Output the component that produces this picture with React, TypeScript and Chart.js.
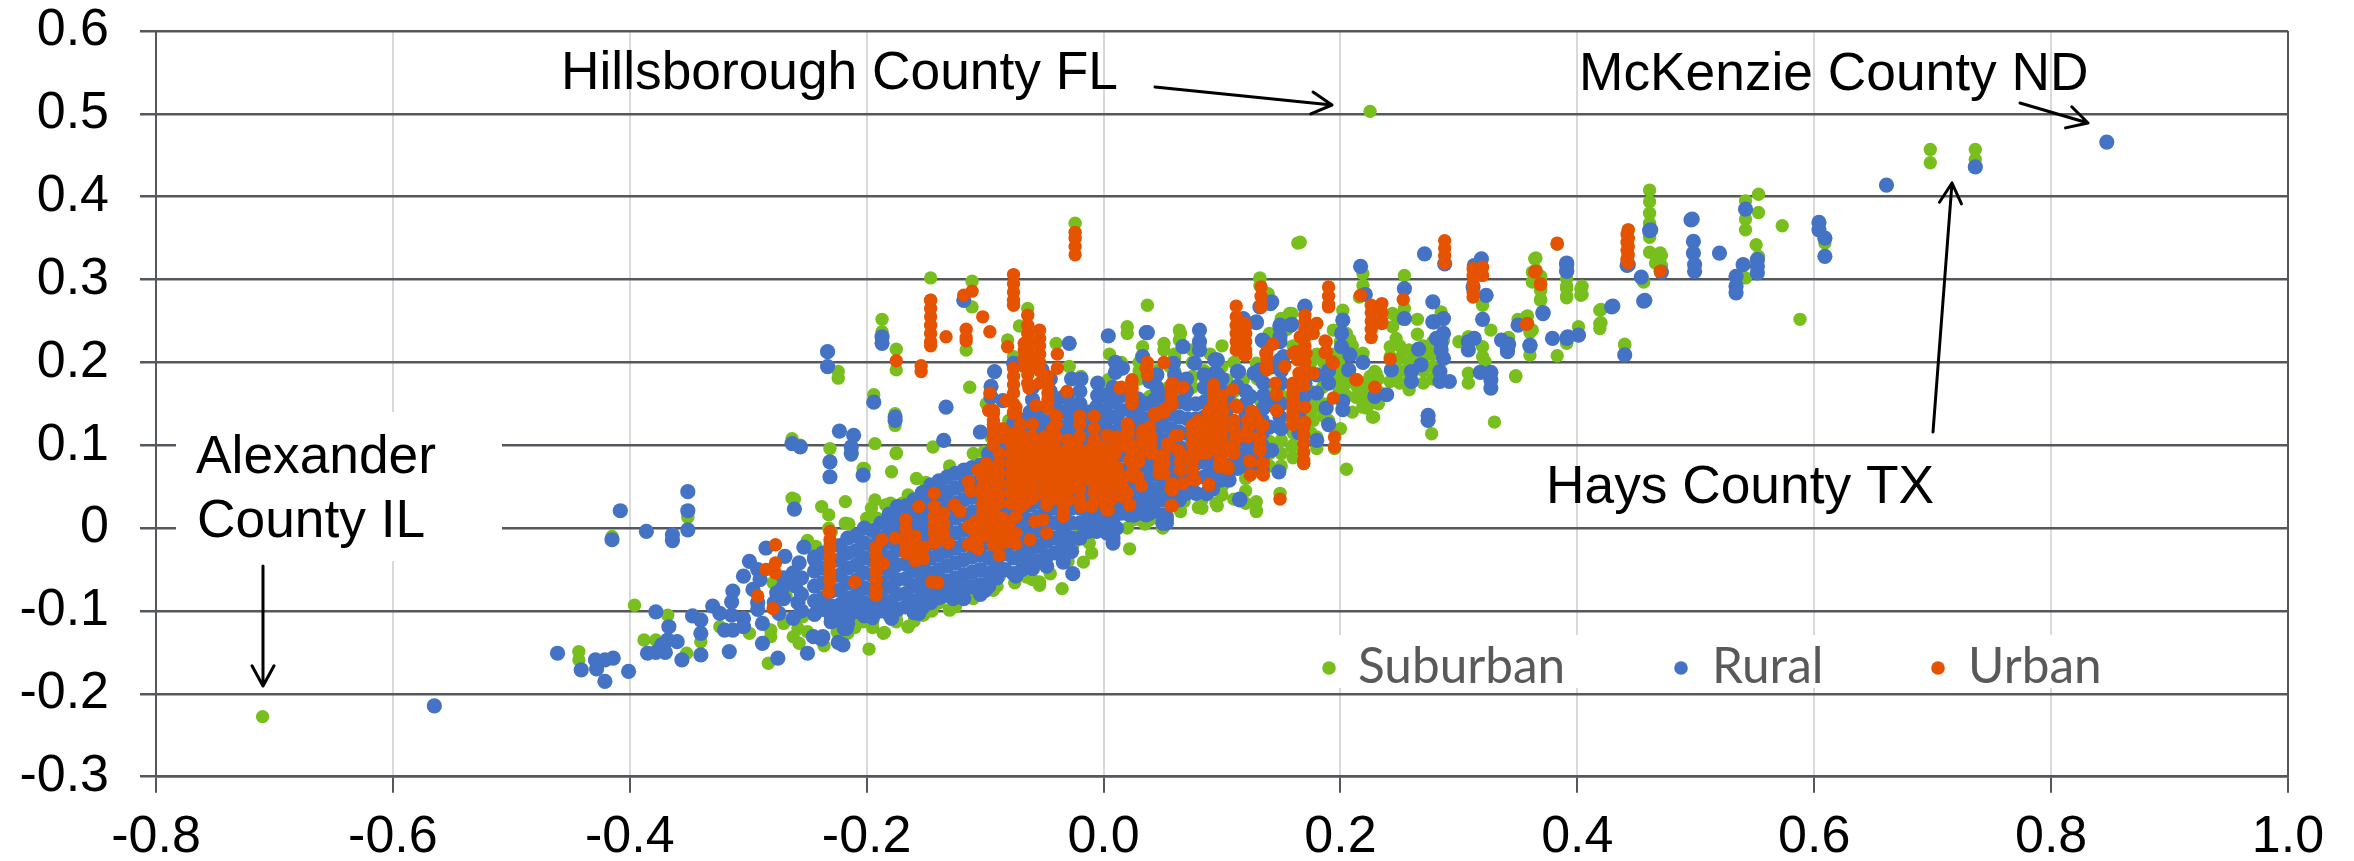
import React, { useEffect, useRef } from "react";
import { Chart, registerables } from "chart.js";

Chart.register(...registerables);

type Stack = [number, number[]];

const xTicks = { min: -0.8, max: 1.0, step: 0.2 };
const yTicks = { min: -0.3, max: 0.6, step: 0.1 };
const seriesNames = ["Suburban", "Rural", "Urban"];

const suburbanStacks: Stack[] = [
  [-0.71, [-0.2275]], [0.225, [0.503]],
  [-0.415, [-0.01]], [-0.351, [0.013]], [-0.396, [-0.093]], [-0.368, [-0.105]], [-0.388, [-0.135]], [-0.378, [-0.135]],
  [-0.443, [-0.149, -0.159]], [-0.352, [-0.151]], [-0.34, [-0.137]], [-0.299, [-0.127]], [-0.324, [-0.119]], [-0.283, [-0.163]],
  [-0.281, [-0.131, -0.123]], [-0.262, [-0.131]], [-0.257, [-0.139]], [-0.254, [-0.107]], [-0.258, [-0.121]], [-0.236, [-0.142]],
  [-0.216, [-0.127]], [-0.198, [-0.146]], [-0.186, [-0.127]], [-0.165, [-0.119]], [-0.175, [-0.113, -0.103]], [-0.195, [-0.113, -0.101]],
  [-0.203, [-0.113]], [-0.189, [-0.094]], [-0.153, [-0.105]], [-0.13, [-0.098, -0.099]], [-0.139, [-0.09]], [-0.184, [-0.096, 0.028]],
  [-0.261, [0.035]], [-0.238, [0.026]], [-0.232, [0.016, 0]], [-0.218, [0.032, 0.006]], [-0.193, [0.034, 0.102]], [-0.196, [0.024]],
  [-0.191, [0.012]], [-0.175, [0.09, 0.091]], [-0.203, [0.072]], [-0.231, [0.096]], [-0.213, [0.088]], [-0.243, [-0.022]],
  [-0.279, [-0.066]], [-0.268, [-0.082]], [-0.094, [-0.074]], [-0.111, [-0.064]], [-0.088, [-0.058, -0.051]], [-0.144, [0.098]],
  [-0.101, [0.092]], [-0.116, [0.066]], [-0.179, [0.068]], [-0.158, [0.06]], [-0.17, [0.03]], [-0.133, [0.034]],
  [-0.176, [0.138, 0.124]], [-0.263, [0.108, 0.036]], [-0.256, [0.1]], [-0.202, [0.072]],
  [-0.054, [-0.065, -0.069]], [-0.035, [-0.073]], [-0.017, [-0.041]], [-0.026, [-0.021]], [-0.012, [-0.018, 0.014]], [0.022, [-0.025]],
  [0.129, [0.032, 0.02]], [0.096, [0.027]], [0.082, [0.025]], [0.068, [0.032]], [0.025, [0.01]], [0.039, [0.01, 0.154, 0.159]],
  [0.033, [0.034, 0.219]], [0.047, [0.042]], [-0.02, [-0.006]], [-0.093, [-0.075]], [-0.11, [-0.071]], [-0.165, [-0.119]], [-0.185, [-0.126]],
  [-0.197, [-0.111]], [-0.208, [-0.113]], [-0.152, [-0.105]], [-0.141, [-0.091]], [-0.065, [-0.059]], [-0.068, [-0.035]], [-0.064, [-0.031]],
  [-0.024, [0.368]], [-0.146, [0.302, 0.275]], [-0.111, [0.298, 0.267]], [-0.187, [0.252, 0.237]], [-0.175, [0.216, 0.191]], [-0.224, [0.189, 0.181]],
  [-0.194, [0.161]], [-0.113, [0.17]], [-0.116, [0.215]], [-0.081, [0.227]], [-0.064, [0.265]], [-0.071, [0.244]], [-0.04, [0.223]],
  [-0.029, [0.195]], [-0.019, [0.183]], [-0.076, [0.207]], [0.037, [0.269]], [0.02, [0.243, 0.235]], [0.051, [0.223, 0.215]], [0.064, [0.239, 0.227]],
  [0.132, [0.302, 0.155]], [0.139, [0.283]], [0.157, [0.259]], [0.164, [0.344]], [-0.099, [0.15]], [0.004, [0.179, 0.167, 0.175]],
  [0.056, [0.195]], [0.075, [0.183]], [0.166, [0.345]], [0.132, [0.301, 0.293]], [0.15, [0.253]], [0.219, [0.307, 0.293, 0.211, 0.146]],
  [0.216, [0.279, 0.167]], [0.254, [0.305, 0.265]], [0.244, [0.259, 0.243]], [0.249, [0.253]], [0.265, [0.252, 0.234]], [0.247, [0.229, 0.179]],
  [0.242, [0.219, 0.207, 0.177]], [0.253, [0.215]], [0.285, [0.261]], [0.287, [0.227]], [0.275, [0.211]], [0.264, [0.203]], [0.261, [0.191]],
  [0.258, [0.167]], [0.308, [0.187, 0.175, 0.231]], [0.32, [0.269, 0.253, 0.219, 0.207]], [0.327, [0.239]], [0.322, [0.201]], [0.348, [0.183]],
  [0.33, [0.128]], [0.277, [0.114]], [0.364, [0.325]], [0.362, [0.309, 0.297, 0.239]], [0.369, [0.303, 0.287, 0.275]], [0.357, [0.255]],
  [0.36, [0.209]], [0.351, [0.249]], [0.383, [0.343, 0.208]], [0.391, [0.301, 0.289, 0.278, 0.223]], [0.403, [0.289, 0.281]], [0.419, [0.263, 0.247, 0.241]],
  [0.401, [0.243]], [0.44, [0.221]], [0.461, [0.408, 0.394, 0.38, 0.368, 0.351, 0.333]], [0.471, [0.329, 0.317]], [0.456, [0.297]],
  [0.225, [0.183, 0.15]], [0.23, [0.187]], [0.213, [0.158]], [0.227, [0.134]], [0.199, [0.239, 0.167]], [0.194, [0.239, 0.191]], [0.208, [0.227]],
  [0.202, [0.171, 0.263]], [0.18, [0.146, 0.247, 0.096]], [0.177, [0.13]], [0.698, [0.457, 0.441]], [0.736, [0.457, 0.445]], [0.443, [0.36]],
  [0.47, [0.332, 0.316]], [0.466, [0.32]], [0.542, [0.395, 0.373, 0.36, 0.302]], [0.553, [0.403, 0.381, 0.328]], [0.573, [0.365]], [0.551, [0.342]],
  [0.609, [0.344]], [0.588, [0.252]], [0.365, [0.326, 0.312, 0.3]], [0.369, [0.304, 0.288, 0.276]], [0.391, [0.292, 0.28, 0.224]], [0.404, [0.292, 0.282]],
  [0.42, [0.264, 0.248]], [0.358, [0.256]], [0.35, [0.252]], [0.36, [0.236]], [0.44, [0.222]], [0.348, [0.184]], [0.342, [0.23]],
  [0.065, [0.235]], [0.003, [0.175, 0.165]], [0.048, [0.122]], [0.042, [0.038]], [0.031, [0.01]], [0.045, [0.018]], [0.062, [0.027]], [0.083, [0.034, 0.024]],
  [0.129, [0.022, 0.199]], [0.149, [0.042]], [0.205, [0.071]], [0.169, [0.078]], [0.159, [0.098, 0.259]], [0.15, [0.106]], [0.195, [0.096]],
  [0.118, [0.179]], [0.104, [0.179]], [0.132, [0.155]], [0.229, [0.189, 0.171]], [0.216, [0.159]], [0.219, [0.151]], [0.228, [0.134]], [0.214, [0.171]],
  [0.197, [0.187]], [0.2, [0.207]],
];

const suburbanFringe: Stack[] = [
  [-0.27, [-0.115]], [-0.25, [-0.125, -0.015]], [-0.225, [-0.125]], [-0.21, [-0.12]], [-0.195, [-0.12]], [-0.175, [-0.11]], [-0.16, [-0.112]],
  [-0.145, [-0.1]], [-0.125, [-0.095]], [-0.11, [-0.085, 0.09]], [-0.09, [-0.07]], [-0.075, [-0.066]], [-0.06, [-0.062]], [-0.045, [-0.055]],
  [-0.03, [-0.04]], [-0.01, [-0.03]], [0.005, [-0.005, 0.21]], [0.02, [0]], [0.035, [0.005]], [0.05, [0]], [0.065, [0.02]], [0.08, [0.025]],
  [0.095, [0.03, 0.11]], [0.11, [0.035]], [-0.23, [-0.005]], [-0.215, [0.005]], [-0.2, [0.012]], [-0.18, [0.03]], [-0.165, [0.04]], [-0.15, [0.055]],
  [-0.13, [0.075]], [-0.095, [0.11]], [-0.08, [0.13]],
  [0.14, [0.17, 0.235]], [0.15, [0.16]], [0.16, [0.13, 0.22]], [0.17, [0.12, 0.155]], [0.18, [0.11, 0.21]], [0.19, [0.13, 0.19]], [0.2, [0.12]], [0.21, [0.14, 0.22]],
  [0.205, [0.16]], [0.22, [0.175]], [0.185, [0.17]], [0.195, [0.21]], [0.13, [0.18]], [0.12, [0.21]], [0.1, [0.22, 0.195]], [0.085, [0.19]], [0.07, [0.18]],
  [0.055, [0.17]], [0.045, [0.19]], [0.03, [0.18]], [0.015, [0.2]], [0.01, [0.19]], [0.06, [0.21]], [0.075, [0.17]], [0.155, [0.24]], [0.175, [0.2]],
];

const suburbanMass: Stack[] = [
  [0.25, [0.22, 0.205, 0.19, 0.175]], [0.258, [0.215, 0.2, 0.185]], [0.27, [0.22, 0.205, 0.19, 0.175]], [0.278, [0.225, 0.21, 0.195, 0.18]], [0.3, [0.225]],
  [0.2, [0.24, 0.225, 0.195, 0.18]], [0.205, [0.235, 0.215, 0.19, 0.175]], [0.222, [0.175, 0.16, 0.145]], [0.232, [0.18, 0.165, 0.15]],
  [0.186, [0.2, 0.185, 0.15, 0.135]], [0.175, [0.165, 0.15, 0.135, 0.115]], [0.16, [0.115, 0.1, 0.085]], [0.15, [0.12, 0.09, 0.075]], [0.14, [0.105, 0.09, 0.075]],
  [0.12, [0.06, 0.045, 0.03]], [0.1, [0.05, 0.04]], [0.06, [0.18, 0.19, 0.205]], [0.075, [0.2, 0.215]], [0.11, [0.165, 0.15, 0.2]], [0.09, [0.17, 0.16, 0.21]], [0.03, [0.19, 0.2]],
];

const ruralOutliers: Stack[] = [
  [0.847, [0.466]], [-0.565, [-0.2146]],
  [-0.408, [0.021]], [-0.351, [0.044, 0.021, -0.002]], [-0.386, [-0.004]], [-0.415, [-0.014]], [-0.364, [-0.008, -0.015]], [-0.378, [-0.101, -0.15]],
  [-0.461, [-0.151]], [-0.441, [-0.171]], [-0.429, [-0.159]], [-0.428, [-0.17]], [-0.421, [-0.159, -0.185]], [-0.414, [-0.157]], [-0.401, [-0.173]],
  [-0.385, [-0.151]], [-0.37, [-0.15]], [-0.373, [-0.141]], [-0.368, [-0.135]], [-0.36, [-0.137]], [-0.367, [-0.119]], [-0.356, [-0.159]],
  [-0.34, [-0.153, -0.127, -0.111]], [-0.316, [-0.149]], [-0.347, [-0.106]], [-0.33, [-0.094]], [-0.324, [-0.103]], [-0.314, [-0.105, -0.089]],
  [-0.304, [-0.109, -0.119, -0.058]], [-0.313, [-0.076, -0.123]], [-0.32, [-0.123]], [-0.288, [-0.139, -0.115]], [-0.275, [-0.157]], [-0.25, [-0.151]],
  [-0.245, [-0.131]], [-0.238, [-0.134]], [-0.224, [-0.138]], [-0.22, [-0.141]], [-0.23, [-0.113]], [-0.219, [-0.121]], [-0.179, [-0.109]],
  [-0.213, [-0.103]], [-0.157, [-0.1, -0.092]], [-0.129, [-0.082]], [-0.136, [-0.082]], [-0.101, [-0.074]], [-0.122, [-0.078]], [-0.074, [-0.058]],
  [-0.299, [-0.04]], [-0.292, [-0.05, -0.09, -0.098]], [-0.296, [-0.074]], [-0.285, [-0.024]], [-0.269, [-0.034]], [-0.29, [-0.062]],
  [-0.276, [-0.078]], [-0.278, [-0.09]], [-0.271, [-0.072]], [-0.26, [-0.07]], [-0.274, [-0.103]], [-0.262, [-0.109, -0.054]], [-0.258, [-0.09]],
  [-0.253, [-0.023]], [-0.257, [-0.042]], [-0.244, [-0.038]], [-0.261, [0.023]], [-0.231, [0.08, 0.062]], [-0.203, [0.064]],
  [-0.263, [0.102]], [-0.256, [0.098]], [-0.213, [0.098, 0.09]], [-0.176, [0.13, 0.134]], [-0.156, [-0.103]], [-0.217, [-0.121]], [-0.237, [-0.131]],
  [-0.1, [-0.075]], [-0.127, [-0.085]], [-0.06, [-0.049]], [-0.034, [-0.041]], [-0.026, [-0.055]], [0.008, [-0.018, 0.002]], [0.026, [0.016]],
  [0.039, [0.02]], [0.053, [0.01]], [0.115, [0.035]], [0.087, [0.042]], [0.07, [0.042]], [-0.006, [-0.004]],
  [-0.233, [0.213, 0.195]], [-0.187, [0.231, 0.223]], [-0.194, [0.152]], [-0.133, [0.146]], [-0.223, [0.117]], [-0.211, [0.112]], [-0.135, [0.106]],
  [-0.104, [0.116]], [-0.118, [0.275]], [-0.029, [0.223, 0.138, 0.12, 0.106]], [-0.092, [0.189]], [-0.076, [0.199]], [-0.095, [0.171, 0.158]],
  [-0.085, [0.154]], [-0.074, [0.13]], [-0.057, [0.136]], [-0.052, [0.191, 0.118]], [-0.027, [0.18]], [-0.019, [0.18]], [-0.031, [0.158]], [-0.02, [0.142]],
  [0.004, [0.232]], [0.036, [0.236]], [0.016, [0.193]], [0.033, [0.207]], [0.067, [0.219, 0.154]], [0.081, [0.239, 0.225, 0.215]], [0.077, [0.199]],
  [0.094, [0.203, 0.187]], [0.113, [0.189, 0.171]], [0.059, [0.199]], [0.007, [0.154]], [0.001, [0.14]], [0.011, [0.134]], [0.025, [0.138]],
  [0.039, [0.177]], [0.03, [0.154]], [0.123, [0.158]], [0.127, [0.187]], [0.117, [0.251]], [0.129, [0.248]], [0.141, [0.271]], [0.132, [0.267, 0.183]],
  [0.149, [0.243, 0.225, 0.203]], [0.158, [0.245]], [0.134, [0.227]], [0.037, [0.236]], [0.096, [0.203, 0.186]], [0.114, [0.189]],
  [0.129, [0.249]], [0.118, [0.253]], [0.135, [0.226]], [0.149, [0.245, 0.231]], [0.159, [0.246]], [0.17, [0.268, 0.267]], [0.132, [0.191]], [0.143, [0.195, 0.151]],
  [0.152, [0.207]], [0.202, [0.251, 0.153, 0.143]], [0.201, [0.235, 0.219]], [0.208, [0.209]], [0.219, [0.2]], [0.207, [0.191]], [0.18, [0.185, 0.163, 0.106]],
  [0.188, [0.145]], [0.229, [0.159]], [0.239, [0.161]], [0.124, [0.159]], [0.14, [0.122]], [0.149, [0.134]], [0.142, [0.094, 0.273]], [0.117, [0.122]],
  [0.09, [0.07]], [0.114, [0.086]], [0.148, [0.068]], [0.115, [0.034]], [0.087, [0.042]], [0.039, [0.018]], [0.053, [0.014, 0.006]], [0.025, [0.016]],
  [0.011, [0]], [0.003, [-0.006]], [0.254, [0.253, 0.289]], [0.278, [0.273, 0.249]], [0.279, [0.249]], [0.287, [0.253, 0.235, 0.205]], [0.371, [0.259]],
  [0.35, [0.245]], [0.266, [0.216]], [0.281, [0.229]], [0.285, [0.223, 0.215]], [0.284, [0.189, 0.177]], [0.292, [0.177]], [0.268, [0.197]],
  [0.26, [0.189, 0.177]], [0.243, [0.191]], [0.308, [0.225, 0.215]], [0.313, [0.229]], [0.336, [0.227]], [0.341, [0.217, 0.213]], [0.36, [0.22]],
  [0.318, [0.188]], [0.327, [0.188, 0.179, 0.169]], [0.379, [0.229]], [0.391, [0.229, 0.318, 0.311, 0.32, 0.31]], [0.401, [0.233]], [0.274, [0.136, 0.13]],
  [0.217, [0.316]], [0.221, [0.282]], [0.271, [0.331]], [0.288, [0.319]], [0.313, [0.317]], [0.319, [0.325]], [0.312, [0.291]], [0.323, [0.281]],
  [0.32, [0.252]], [0.496, [0.372]], [0.461, [0.359]], [0.442, [0.317]], [0.454, [0.303]], [0.456, [0.274]], [0.429, [0.267]], [0.44, [0.209]], [0.471, [0.309]],
  [0.736, [0.436]], [0.661, [0.414]], [0.497, [0.373]], [0.542, [0.385]], [0.462, [0.36]], [0.604, [0.369, 0.36]], [0.609, [0.35, 0.328]],
  [0.498, [0.346, 0.332]], [0.499, [0.318, 0.31]], [0.52, [0.332]], [0.552, [0.324, 0.316, 0.308]], [0.54, [0.318]], [0.534, [0.304, 0.292, 0.284]],
  [0.443, [0.318]], [0.457, [0.275]], [0.43, [0.268]], [0.371, [0.26]], [0.36, [0.221]], [0.342, [0.222]], [0.392, [0.231]],
  [0.105, [0.145, 0.16]], [0.12, [0.135, 0.15, 0.165]], [0.135, [0.145, 0.16, 0.175]], [0.15, [0.12, 0.15, 0.175, 0.19]], [0.165, [0.115, 0.135, 0.16]], [0.17, [0.16, 0.175]],
  [0.19, [0.125, 0.175, 0.19]], [0.01, [0.188, 0.2]], [0.045, [0.17, 0.185]], [0.06, [0.17, 0.185]], [0.07, [0.165, 0.18]], [0.085, [0.17, 0.185]], [0.1, [0.165, 0.18]],
  [-0.02, [0.165]], [-0.005, [0.16, 0.175]], [-0.06, [0.155, 0.17]], [-0.045, [0.165, 0.18]], [-0.27, [-0.06, -0.085]], [-0.255, [-0.06, -0.08, -0.1]],
];

const ruralCore: Stack[] = [
  [-0.244, [-0.035, -0.052, -0.07, -0.088, -0.104]],
  [-0.23, [-0.02, -0.04, -0.058, -0.076, -0.094, -0.106]],
  [-0.216, [-0.012, -0.03, -0.048, -0.066, -0.084, -0.1, -0.115]],
  [-0.202, [0, -0.018, -0.036, -0.054, -0.072, -0.09, -0.106]],
  [-0.188, [0.006, -0.012, -0.03, -0.048, -0.066, -0.084, -0.1]],
  [-0.174, [0.026, 0.01, -0.008, -0.026, -0.044, -0.062, -0.08, -0.098]],
  [-0.16, [0.034, 0.02, 0.002, -0.016, -0.034, -0.052, -0.07, -0.088, -0.102]],
  [-0.146, [0.052, 0.036, 0.018, 0, -0.018, -0.036, -0.054, -0.072, -0.09]],
  [-0.132, [0.062, 0.044, 0.026, 0.008, -0.01, -0.028, -0.046, -0.064, -0.08]],
  [-0.118, [0.07, 0.052, 0.034, 0.016, -0.002, -0.02, -0.038, -0.056, -0.074, -0.085]],
  [-0.104, [0.076, 0.058, 0.04, 0.022, 0.004, -0.014, -0.032, -0.05, -0.068, -0.08]],
  [-0.09, [0.1, 0.082, 0.064, 0.046, 0.028, 0.01, -0.008, -0.026, -0.044, -0.06]],
  [-0.076, [0.126, 0.11, 0.09, 0.072, 0.054, 0.036, 0.018, 0, -0.018, -0.036, -0.055]],
  [-0.062, [0.14, 0.118, 0.1, 0.082, 0.064, 0.046, 0.028, 0.01, -0.008, -0.026, -0.044]],
  [-0.048, [0.146, 0.128, 0.11, 0.092, 0.074, 0.056, 0.038, 0.02, 0.002, -0.016, -0.034, -0.046]],
  [-0.034, [0.158, 0.14, 0.122, 0.104, 0.086, 0.068, 0.05, 0.032, 0.014, -0.004, -0.02, -0.036]],
  [-0.02, [0.15, 0.132, 0.114, 0.096, 0.078, 0.06, 0.042, 0.024, 0.006, -0.012]],
  [-0.006, [0.146, 0.128, 0.11, 0.092, 0.074, 0.056, 0.038, 0.02, 0.006]],
  [0.008, [0.17, 0.152, 0.134, 0.116, 0.098, 0.08, 0.062, 0.044, 0.026, 0.012, -0.012]],
  [0.022, [0.162, 0.144, 0.126, 0.108, 0.09, 0.072, 0.054, 0.036, 0.02, 0.016]],
  [0.036, [0.15, 0.132, 0.114, 0.096, 0.078, 0.06, 0.042, 0.03, 0.016]],
  [0.05, [0.16, 0.142, 0.124, 0.106, 0.088, 0.07, 0.052, 0.034, 0.016, 0.006]],
  [0.064, [0.152, 0.134, 0.116, 0.098, 0.08, 0.062, 0.044, 0.034]],
  [0.078, [0.15, 0.132, 0.114, 0.096, 0.078, 0.06, 0.042]],
  [0.092, [0.155, 0.137, 0.119, 0.101, 0.083, 0.065, 0.047]],
  [0.106, [0.13, 0.112, 0.094, 0.076, 0.058]],
  [0.12, [0.12, 0.105, 0.09, 0.075]],
  [0.134, [0.13, 0.115, 0.1, 0.085, 0.07]],
];

const ruralCoreBetween: Stack[] = [
  [-0.237, [-0.03, -0.048, -0.066, -0.084, -0.098]],
  [-0.223, [-0.021, -0.039, -0.057, -0.075, -0.093, -0.11]],
  [-0.209, [-0.009, -0.027, -0.045, -0.063, -0.081, -0.098]],
  [-0.195, [-0.003, -0.021, -0.039, -0.057, -0.075, -0.093, -0.108]],
  [-0.181, [0.017, 0, -0.017, -0.035, -0.053, -0.071, -0.089, -0.104]],
  [-0.167, [0.027, 0.011, -0.007, -0.025, -0.043, -0.061, -0.079, -0.095]],
  [-0.153, [0.043, 0.027, 0.009, -0.009, -0.027, -0.045, -0.063, -0.081, -0.096]],
  [-0.139, [0.057, 0.04, 0.022, 0.004, -0.014, -0.032, -0.05, -0.068, -0.084]],
  [-0.125, [0.066, 0.048, 0.03, 0.012, -0.006, -0.024, -0.042, -0.06, -0.077]],
  [-0.111, [0.073, 0.055, 0.037, 0.019, 0.001, -0.017, -0.035, -0.053, -0.071]],
  [-0.097, [0.09, 0.072, 0.054, 0.036, 0.018, 0, -0.018, -0.036, -0.054, -0.07]],
  [-0.083, [0.113, 0.095, 0.077, 0.059, 0.041, 0.023, 0.005, -0.013, -0.031, -0.05]],
  [-0.069, [0.13, 0.112, 0.094, 0.076, 0.058, 0.04, 0.022, 0.004, -0.014, -0.032, -0.05]],
  [-0.055, [0.14, 0.122, 0.104, 0.086, 0.068, 0.05, 0.032, 0.014, -0.004, -0.022, -0.04]],
  [-0.041, [0.15, 0.132, 0.114, 0.096, 0.078, 0.06, 0.042, 0.024, 0.006, -0.012, -0.03]],
  [-0.027, [0.15, 0.132, 0.114, 0.096, 0.078, 0.06, 0.042, 0.024, 0.006, -0.012, -0.028]],
  [-0.013, [0.14, 0.122, 0.104, 0.086, 0.068, 0.05, 0.032, 0.014, -0.004]],
  [0.001, [0.16, 0.142, 0.124, 0.106, 0.088, 0.07, 0.052, 0.034, 0.016, 0.004]],
  [0.015, [0.16, 0.142, 0.124, 0.106, 0.088, 0.07, 0.052, 0.034, 0.018]],
  [0.029, [0.156, 0.138, 0.12, 0.102, 0.084, 0.066, 0.048, 0.03, 0.018]],
  [0.043, [0.155, 0.137, 0.119, 0.101, 0.083, 0.065, 0.047, 0.03]],
  [0.057, [0.156, 0.138, 0.12, 0.102, 0.084, 0.066, 0.048, 0.036]],
  [0.071, [0.15, 0.132, 0.114, 0.096, 0.078, 0.06, 0.045]],
  [0.085, [0.152, 0.134, 0.116, 0.098, 0.08, 0.062]],
  [0.099, [0.145, 0.127, 0.109, 0.091, 0.073, 0.058]],
  [0.113, [0.125, 0.107, 0.09, 0.072]],
  [0.127, [0.125, 0.107, 0.09, 0.075]],
];

const urbanStacks: Stack[] = [
  [-0.231, [-0.004, -0.014, -0.024, -0.034, -0.044, -0.054, -0.064]], [-0.232, [-0.077]], [-0.21, [-0.065]],
  [-0.192, [-0.023, -0.033, -0.043, -0.053, -0.063, -0.073, -0.081]], [-0.187, [-0.014]], [-0.186, [-0.043]], [-0.176, [-0.012]],
  [-0.167, [0.01, 0, -0.01, -0.02, -0.03]], [-0.159, [-0.01, -0.02, -0.03, -0.039]], [-0.152, [-0.023, -0.037]], [-0.156, [0.026]],
  [-0.143, [0.042, 0.026, 0.014, 0.004, -0.006, -0.018]], [-0.135, [0.018, 0.006, -0.004, -0.014]], [-0.131, [-0.018]], [-0.126, [0.028]], [-0.121, [0.02]],
  [-0.145, [-0.065]], [-0.14, [-0.066]], [-0.114, [0.056, 0.002, -0.02]], [-0.112, [0.045]], [-0.106, [-0.025, 0.07]],
  [-0.102, [0.062, 0.05, 0.04, 0.03, 0.02, 0.01, 0, -0.01]], [-0.093, [0.142, 0.13, 0.12, 0.11, 0.1, 0.07, 0.06, 0.05, 0.04, 0.03, 0.02, 0.01, 0, -0.01, -0.02]],
  [-0.088, [-0.033]], [-0.099, [0.078]], [-0.076, [0.114, 0.094, 0.08, 0.07, 0.06, 0.05, 0.04, 0.03]],
  [-0.066, [0.11, 0.1, 0.09, 0.08, 0.07, 0.06, 0.05, 0.04, 0.03]], [-0.057, [0.148, 0.106, 0.096, 0.08, 0.066]], [-0.074, [0.014, -0.006, -0.019, 0.146]],
  [-0.062, [-0.014]], [-0.058, [0.008]], [-0.048, [-0.006, 0.028, 0.148]], [-0.051, [0.01]], [-0.064, [0.034]],
  [-0.044, [0.098, 0.088, 0.078, 0.068, 0.058, 0.05]], [-0.034, [0.082, 0.072, 0.062, 0.052, 0.04, 0.03, 0.02, 0.014]],
  [-0.024, [0.098, 0.088, 0.078, 0.068, 0.058, 0.357, 0.35, 0.34, 0.33]], [-0.019, [0.026]], [-0.01, [0.026]],
  [-0.011, [0.096, 0.086, 0.076, 0.066, 0.058]], [-0.003, [0.098, 0.088, 0.078, 0.068, 0.058, 0.048]],
  [0.003, [0.09, 0.08, 0.07, 0.06, 0.05, 0.04, 0.03, 0.022, 0.112]], [0.011, [0.074, 0.064, 0.05, 0.109, 0.11]], [0.022, [0.028, 0.082]], [0.016, [0.046]],
  [0.02, [0.126, 0.116, 0.106, 0.098, 0.042]], [-0.043, [0.12]], [0.033, [0.114, 0.118, 0.106]], [0.039, [0.12, 0.122]], [0.025, [0.07, 0.088, 0.078, 0.068, 0.062]],
  [0.029, [0.062]], [0.032, [0.051]], [0.047, [0.086, 0.076, 0.066]], [0.054, [0.102]], [0.061, [0.112]], [0.057, [0.027, 0.048]], [0.067, [0.054, 0.17]],
  [0.089, [0.052, 0.142, 0.14]], [0.075, [0.124, 0.114, 0.102]], [0.087, [0.126, 0.116, 0.106, 0.096, 0.09]], [0.098, [0.13, 0.12, 0.11, 0.1, 0.09, 0.08, 0.074]],
  [0.105, [0.074, 0.072]], [0.114, [0.11]], [0.112, [0.148, 0.11, 0.255, 0.245, 0.235, 0.225, 0.215, 0.268]], [0.123, [0.081]], [0.134, [0.078, 0.066]], [0.132, [0.102, 0.094, 0.11]],
  [0.044, [0.136, 0.138]], [0.051, [0.14, 0.143, 0.2, 0.088, 0.078, 0.066]], [0.056, [0.148]], [0.101, [0.142]], [0.127, [0.138]], [0.135, [0.124, 0.078, 0.064]],
  [-0.146, [0.275, 0.265, 0.255, 0.245, 0.235, 0.225, 0.22]], [-0.133, [0.231]], [-0.118, [0.281]], [-0.111, [0.286]], [-0.102, [0.255]], [-0.096, [0.237, 0.163]],
  [-0.116, [0.24, 0.23, 0.226]], [-0.154, [0.196, 0.189]], [-0.175, [0.202]], [-0.076, [0.306, 0.295, 0.285, 0.275, 0.269, 0.193, 0.183, 0.173, 0.163, 0.15, 0.14, 0.138]],
  [-0.081, [0.219]], [-0.064, [0.257, 0.245, 0.235, 0.225, 0.215, 0.205, 0.195, 0.185, 0.175]], [-0.054, [0.239, 0.229, 0.22, 0.21, 0.2, 0.19, 0.175]],
  [-0.067, [0.223, 0.215, 0.205, 0.195]], [-0.063, [0.169]], [-0.039, [0.21, 0.193]], [-0.047, [0.183, 0.173, 0.163, 0.155, 0.145]], [-0.031, [0.165]],
  [-0.082, [0.154]], [-0.074, [0.138]], [-0.097, [0.142]], [-0.093, [0.125, 0.138, 0.11]], [-0.065, [0.106]],
  [0.036, [0.193]], [0.024, [0.177, 0.167, 0.157, 0.152, 0.179, 0.17, 0.16, 0.15]], [0.014, [0.169]], [0.057, [0.17, 0.16, 0.15]], [0.066, [0.169]], [0.05, [0.14]], [0.043, [0.138]],
  [0.288, [0.347, 0.338, 0.329, 0.32]], [0.312, [0.313, 0.305, 0.295, 0.285, 0.279]], [0.32, [0.315, 0.305]], [0.364, [0.309]], [0.369, [0.294, 0.295]],
  [0.383, [0.343, 0.344]], [0.357, [0.246]], [0.442, [0.355, 0.345, 0.335, 0.325, 0.323]], [0.47, [0.31]],
  [0.133, [0.291, 0.28, 0.27, 0.267]], [0.113, [0.249, 0.24, 0.23, 0.22, 0.215, 0.146]], [0.12, [0.243, 0.235, 0.225, 0.215, 0.209]], [0.19, [0.291, 0.28, 0.27, 0.267]],
  [0.17, [0.257, 0.25, 0.24, 0.23, 0.22, 0.21, 0.2, 0.19, 0.183, 0.146, 0.128]], [0.18, [0.247]], [0.177, [0.235, 0.187]], [0.166, [0.231, 0.179]], [0.143, [0.222]],
  [0.137, [0.211, 0.195]], [0.153, [0.195]], [0.16, [0.211, 0.17, 0.16, 0.15, 0.14, 0.13, 0.126, 0.175, 0.165, 0.155, 0.145, 0.135, 0.125]], [0.164, [0.203]],
  [0.187, [0.226, 0.212]], [0.193, [0.201]], [0.175, [0.187]], [0.165, [0.187]], [0.226, [0.269, 0.26, 0.25, 0.24, 0.23]], [0.235, [0.271, 0.26, 0.25, 0.247]],
  [0.217, [0.281]], [0.253, [0.276]], [0.242, [0.204]], [0.213, [0.179]], [0.229, [0.17]], [0.146, [0.162, 0.142, 0.161]], [0.145, [0.175]], [0.169, [0.172, 0.122, 0.112, 0.102, 0.092, 0.082, 0.078]],
  [0.126, [0.14]], [0.093, [0.169, 0.158, 0.134, 0.173, 0.165, 0.155, 0.145, 0.135, 0.125, 0.115, 0.105, 0.095]], [0.109, [0.167]], [0.099, [0.15, 0.142]], [0.089, [0.14, 0.053]], [0.131, [0.126]],
  [0.037, [0.2, 0.19, 0.185]], [0.015, [0.17]], [0.058, [0.175, 0.165, 0.15, 0.054, 0.046, 0.027]], [0.044, [0.138]],
  [0.08, [0.13, 0.12, 0.11, 0.1, 0.09]], [0.1, [0.16, 0.15, 0.14, 0.13, 0.12, 0.11, 0.1, 0.09, 0.08]], [0.107, [0.098]], [0.105, [0.072]],
  [0.124, [0.08, 0.064]], [0.149, [0.035]], [0.125, [0.141]], [0.129, [0.132]], [0.132, [0.094]], [0.195, [0.11, 0.098]], [0.194, [0.157, 0.199]], [0.214, [0.179]],
  [0.171, [0.211]], [0.162, [0.213]], [0.188, [0.225, 0.213]], [0.138, [0.213, 0.205, 0.195, 0.191]], [0.119, [0.247, 0.237, 0.227, 0.217, 0.209]],
  [0.003, [0.112]], [0.021, [0.124, 0.114, 0.104, 0.098]], [0.048, [0.088, 0.078, 0.066]], [0.063, [0.112, 0.094]], [0.055, [0.1]], [0.065, [0.07]], [0.074, [0.086]], [0.077, [0.058]],
  [0.002, [0.096, 0.085, 0.07, 0.06, 0.05, 0.035, 0.026]], [0.006, [0.082, 0.034]], [0.011, [0.07, 0.05]], [0.022, [0.028]], [0.004, [0.022]],
  [0.358, [0.247]], [0.365, [0.31]], [0.443, [0.36, 0.35, 0.34, 0.33, 0.32]], [-0.277, [-0.02, -0.042, -0.054]], [-0.285, [-0.05]], [-0.292, [-0.082]], [-0.279, [-0.097]],
];

const urbanCore: Stack[] = [
  [-0.108, [0.008, -0.002, -0.012, -0.022]],
  [-0.098, [0.028, 0.04, 0.052, 0.064]],
  [-0.088, [0.03, 0.042, 0.054, 0.066, 0.078, 0.09]],
  [-0.085, [0.012, 0.002, -0.008, -0.018, 0.11, 0.12]],
  [-0.08, [0.006, -0.006, -0.016]],
  [-0.078, [0.03, 0.042, 0.054, 0.066, 0.078, 0.09, 0.102]],
  [-0.07, [0.026, 0.038, 0.05, 0.062, 0.074, 0.086, 0.098, 0.11, 0.125]],
  [-0.06, [0.036, 0.048, 0.06, 0.072, 0.084, 0.096, 0.11, 0.125]],
  [-0.05, [0.04, 0.052, 0.064, 0.076, 0.088, 0.1, 0.11]],
  [-0.04, [0.036, 0.048, 0.06, 0.072, 0.084, 0.096, 0.11, 0.125, 0.135]],
  [-0.03, [0.034, 0.046, 0.058, 0.07, 0.082, 0.094, 0.106]],
  [-0.02, [0.034, 0.046, 0.058, 0.07, 0.082, 0.094, 0.11, 0.125, 0.135]],
  [-0.008, [0.032, 0.044, 0.056, 0.07, 0.082, 0.094, 0.106, 0.12, 0.135]],
  [0.006, [0.034, 0.046, 0.058, 0.07, 0.082, 0.094]],
  [0.016, [0.038, 0.05, 0.062]],
  [0.01, [0.1, 0.09]], [0.03, [0.09, 0.08, 0.1]], [0.04, [0.09, 0.1, 0.11]], [0.065, [0.09, 0.08]], [0.075, [0.09, 0.08, 0.07, 0.06]],
  [0.11, [0.13, 0.12, 0.1, 0.09]], [0.122, [0.13, 0.12, 0.11]],
];

const toPoints = (stacks: Stack[]) => stacks.flatMap(([x, ys]) => ys.map((y) => ({ x, y })));

const annotationTexts = [
  { text: "Hillsborough County FL", x: 561, y: 89 },
  { text: "McKenzie County ND", x: 1579, y: 90 },
  { text: "Alexander", x: 196, y: 473 },
  { text: "County IL", x: 197, y: 537 },
  { text: "Hays County TX", x: 1546, y: 503 },
];
const arrows = [
  [1155, 87, 1332, 105],
  [2020, 103, 2088, 123],
  [1933, 432, 1952, 183],
  [263, 566, 263, 686],
];
const seriesColors = ["#78BF1E", "#4472C4", "#E55300"];
const legendDots = [1329, 1681, 1938];
const legendLabels = [1358, 1712, 1968];

const annotationPlugin = {
  id: "annotations",
  beforeDatasetsDraw(chart: any) {
    const { ctx } = chart;
    ctx.save();
    ctx.fillStyle = "#ffffff";
    ctx.fillRect(176, 412, 326, 149);
    ctx.fillRect(1300, 635, 820, 53);
    ctx.restore();
  },
  afterDatasetsDraw(chart: any) {
    const { ctx } = chart;
    ctx.save();
    ctx.fillStyle = "#000000";
    ctx.font = '53.3px "Liberation Sans"';
    ctx.textBaseline = "alphabetic";
    ctx.textAlign = "left";
    annotationTexts.forEach((t) => ctx.fillText(t.text, t.x, t.y));
    ctx.strokeStyle = "#000000";
    ctx.lineWidth = 3;
    ctx.lineCap = "round";
    arrows.forEach(([x0, y0, x1, y1]) => {
      const a = Math.atan2(y1 - y0, x1 - x0);
      ctx.beginPath();
      ctx.moveTo(x0, y0);
      ctx.lineTo(x1, y1);
      [0.5, -0.5].forEach((d) => {
        ctx.moveTo(x1 - 23 * Math.cos(a + d), y1 - 23 * Math.sin(a + d));
        ctx.lineTo(x1, y1);
      });
      ctx.stroke();
    });
    ctx.font = "49.5px Lato";
    seriesNames.forEach((name, i) => {
      ctx.fillStyle = seriesColors[i];
      ctx.beginPath();
      ctx.arc(legendDots[i], 668, 6.8, 0, Math.PI * 2);
      ctx.fill();
      ctx.fillStyle = "#595959";
      ctx.fillText(name, legendLabels[i], 683);
    });
    ctx.restore();
  },
};

export default function App() {
  const ref = useRef<HTMLCanvasElement | null>(null);
  useEffect(() => {
    document.body.style.margin = "0";
    const dark = "#54585C";
    const chart = new Chart(ref.current as HTMLCanvasElement, {
      type: "scatter",
      data: {
        datasets: [
          { label: seriesNames[0], data: toPoints([...suburbanFringe, ...suburbanMass, ...suburbanStacks]), backgroundColor: seriesColors[0], pointRadius: 6.7, borderWidth: 0, order: 3 },
          { label: seriesNames[1], data: toPoints([...ruralOutliers, ...ruralCore, ...ruralCoreBetween]), backgroundColor: seriesColors[1], pointRadius: 7.6, borderWidth: 0, order: 2 },
          { label: seriesNames[2], data: toPoints([...urbanCore, ...urbanStacks]), backgroundColor: seriesColors[2], pointRadius: 6.7, borderWidth: 0, order: 1 },
        ],
      },
      options: {
        animation: false,
        responsive: false,
        layout: { padding: { left: 0, right: 66, top: 0, bottom: 0 } },
        plugins: { legend: { display: false }, tooltip: { enabled: false }, title: { display: false } },
        scales: {
          x: {
            type: "linear",
            min: xTicks.min,
            max: xTicks.max,
            afterFit: (s: any) => { s.height = 84.3; },
            grid: {
              color: (c: any) => (c.tick && Math.abs(c.tick.value - 1) < 1e-6 ? dark : "#D9D9D9"),
              lineWidth: 2,
              tickColor: dark,
              tickLength: 16,
              tickWidth: 2,
            },
            border: { color: dark, width: 2.5 },
            ticks: {
              stepSize: xTicks.step,
              color: "#000000",
              padding: 14,
              maxRotation: 0,
              font: { family: '"Liberation Sans"', size: 52 },
              callback: (v: any) => Number(v).toFixed(1),
            },
          },
          y: {
            type: "linear",
            min: yTicks.min,
            max: yTicks.max,
            afterFit: (s: any) => {
              s.width = 156;
              s.paddingTop = 31;
              s.paddingBottom = 31;
            },
            grid: { color: dark, lineWidth: 2.5, tickColor: dark, tickLength: 16, tickWidth: 2.5 },
            border: { color: dark, width: 2 },
            ticks: {
              stepSize: yTicks.step,
              color: "#000000",
              padding: 31,
              font: { family: '"Liberation Sans"', size: 52 },
              callback: (v: any) => String(Math.round(Number(v) * 10) / 10),
            },
          },
        },
      },
      plugins: [annotationPlugin],
    } as any);
    return () => chart.destroy();
  }, []);
  return <canvas ref={ref} width={2354} height={861} style={{ display: "block" }} />;
}
